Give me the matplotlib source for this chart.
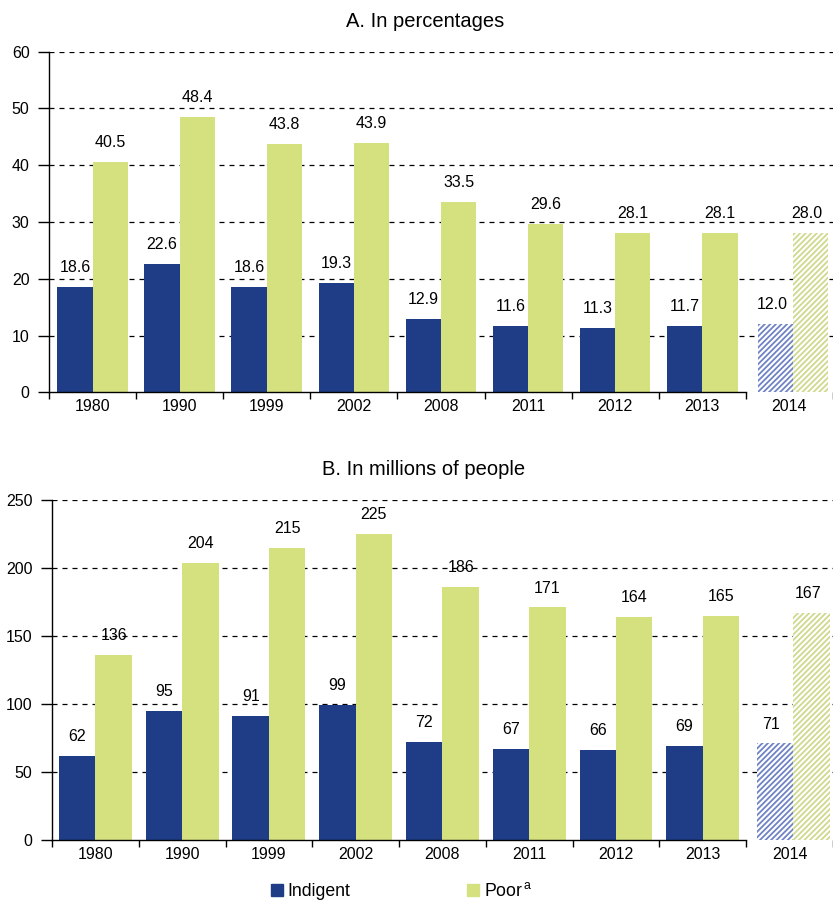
import matplotlib.pyplot as plt
import numpy as np
from matplotlib.patches import Patch

plt.rcParams['font.family'] = ['Liberation Sans', 'DejaVu Sans']
plt.rcParams['mathtext.fontset'] = 'custom'
plt.rcParams['mathtext.rm'] = 'Liberation Sans'
plt.rcParams['hatch.linewidth'] = 1.3

# Data
years = ['1980', '1990', '1999', '2002', '2008', '2011', '2012', '2013', '2014']
pct_indigent = [18.6, 22.6, 18.6, 19.3, 12.9, 11.6, 11.3, 11.7, 12.0]
pct_poor = [40.5, 48.4, 43.8, 43.9, 33.5, 29.6, 28.1, 28.1, 28.0]
mil_indigent = [62, 95, 91, 99, 72, 67, 66, 69, 71]
mil_poor = [136, 204, 215, 225, 186, 171, 164, 165, 167]

c_ind = '#1F3D87'
c_poor = '#D4E17E'
c_ind_h = '#6F83C4'
c_poor_h = '#CFD98E'

fig = plt.figure(figsize=(8.33, 9.01), dpi=100)
axA = fig.add_axes([0.0588, 0.5646, 1 - 0.0588, 0.9428 - 0.5646])
axB = fig.add_axes([0.0624, 0.0677, 1 - 0.0624, 0.445 - 0.0677])


def draw(ax, ind, poor, ymax, step, fmt, title, w, tx):
    x = np.arange(len(years))
    n = len(years) - 1  # last year is a projection, hatched
    ax.bar(x[:n] - w / 2, ind[:n], w, color=c_ind, zorder=2)
    ax.bar(x[:n] + w / 2, poor[:n], w, color=c_poor, zorder=2)
    ax.bar(x[n] - w / 2 + 0.04, ind[n], w, facecolor='white', edgecolor=c_ind_h,
           hatch='//////', lw=0, zorder=2)
    ax.bar(x[n] + w / 2 + 0.04, poor[n], w, facecolor='white', edgecolor=c_poor_h,
           hatch='//////', lw=0, zorder=2)
    for xi, v in zip(x, ind):
        ax.annotate(fmt % v, (xi - w / 2, v), xytext=(0, 14), textcoords='offset points',
                    ha='center', va='center', fontsize=11.5)
    for xi, v in zip(x, poor):
        ax.annotate(fmt % v, (xi + w / 2, v), xytext=(0, 14), textcoords='offset points',
                    ha='center', va='center', fontsize=11.5)

    ax.set_xlim(-0.5, len(years) - 0.5)
    ax.set_ylim(0, ymax)
    ax.set_yticks(np.arange(0, ymax + 1, step))
    ax.tick_params(axis='y', length=8, width=1, labelsize=11.5, pad=6)
    ax.set_xticks(np.arange(-0.5, len(years)), labels=[])
    ax.set_xticks(x, labels=years, minor=True)
    ax.tick_params(axis='x', which='major', length=5, width=1, direction='out')
    ax.tick_params(axis='x', which='minor', length=0, labelsize=11.5, pad=5)
    for v in np.arange(step, ymax + 1, step):
        ax.axhline(v, color='black', lw=0.9, ls=(0, (4, 4)), zorder=1)
    for s in ['top', 'right']:
        ax.spines[s].set_visible(False)
    ax.spines['bottom'].set_bounds(-0.5, len(years) - 1.5)
    ax.spines['left'].set_linewidth(1)
    ax.spines['bottom'].set_linewidth(1)
    ax.set_title(title, fontsize=14.5, pad=18, x=tx)


draw(axA, pct_indigent, pct_poor, 60, 10, '%.1f', 'A. In percentages', 0.405, 0.48)
draw(axB, mil_indigent, mil_poor, 250, 50, '%d', 'B. In millions of people', 0.42, 0.476)

handles = [Patch(color=c_ind), Patch(color=c_poor)]
fig.legend(handles, ['Indigent', r'Poor$^{\,\mathrm{a}}$'], loc='center',
           bbox_to_anchor=(0.482, 0.011), ncol=2, frameon=False, fontsize=12.7,
           handlelength=0.7, handleheight=0.7, handletextpad=0.25,
           columnspacing=6.6, borderpad=0, borderaxespad=0)

fig.savefig('out.png', dpi=100)
